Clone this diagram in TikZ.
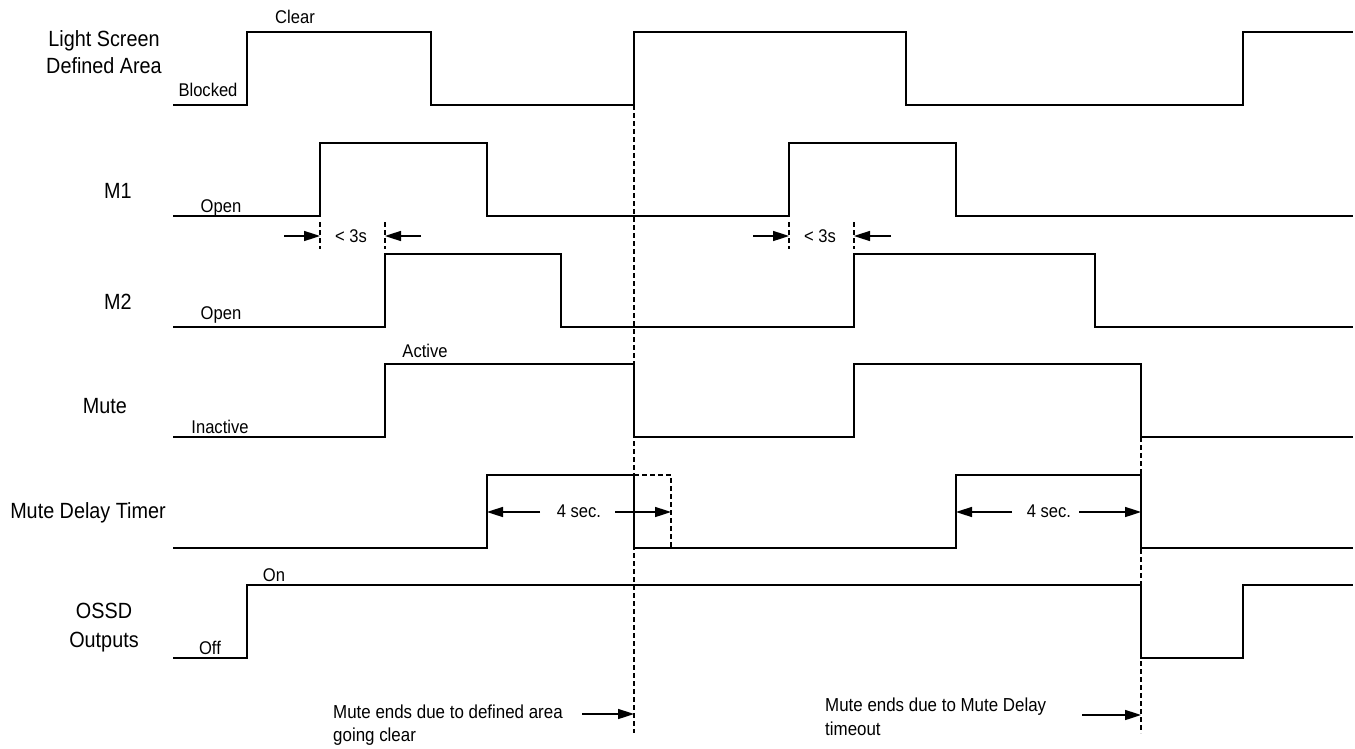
\documentclass[tikz,border=0pt]{standalone}
\usepackage{fontspec}
\setmainfont{Liberation Sans}[FakeStretch=0.9]
\usetikzlibrary{arrows.meta}
\begin{document}
\begin{tikzpicture}[x=1pt,y=-1pt,
  sig/.style={line width=1.6pt, line join=miter},
  guide/.style={line width=1.4pt, dash pattern=on 5pt off 3pt},
  dimarrow/.style={line width=1.6pt, -{Triangle[length=16pt,width=10pt]}},
  big/.style={font=\fontsize{22}{26}\selectfont, inner sep=0pt, anchor=base},
  small/.style={font=\fontsize{18.4}{22}\selectfont, inner sep=0pt, anchor=base},
  note/.style={font=\fontsize{18.8}{22}\selectfont, inner sep=0pt, anchor=base west}]
\useasboundingbox (0,0) rectangle (1355,749);

% signal names
\node[big] (lsA) at (104,47) {Light Screen};
\node[big] (lsB) at (104,74) {Defined Area};
\node[big] (m1) at (118,198) {M1};
\node[big] (m2) at (118,309) {M2};
\node[big] (mute) at (105,413) {Mute};
\node[big] (mdt) at (88,518) {Mute Delay Timer};
\node[big] (ossdA) at (104,618) {OSSD};
\node[big] (ossdB) at (104,647) {Outputs};

% state labels
\node[small] (clear) at (295,24) {Clear};
\node[small] (blocked) at (208,97) {Blocked};
\node[small] (open1) at (221,212) {Open};
\node[small] (open2) at (221,319) {Open};
\node[small] (active) at (425,357) {Active};
\node[small] (inactive) at (220,433) {Inactive};
\node[small] (on) at (274,581) {On};
\node[small] (off) at (210,654) {Off};

% waveforms
\draw[sig] (173,105) -- (247,105) -- (247,32) -- (431,32) -- (431,105) -- (634,105) -- (634,32) -- (906,32) -- (906,105) -- (1243,105) -- (1243,32) -- (1353,32);
\draw[sig] (173,216) -- (320,216) -- (320,143) -- (487,143) -- (487,216) -- (789,216) -- (789,143) -- (956,143) -- (956,216) -- (1353,216);
\draw[sig] (173,327) -- (385,327) -- (385,254) -- (561,254) -- (561,327) -- (854,327) -- (854,254) -- (1095,254) -- (1095,327) -- (1353,327);
\draw[sig] (173,437) -- (385,437) -- (385,364) -- (634,364) -- (634,437) -- (854,437) -- (854,364) -- (1141,364) -- (1141,437) -- (1353,437);
\draw[sig] (173,548) -- (487,548) -- (487,475) -- (634,475) -- (634,548) -- (956,548) -- (956,475) -- (1141,475) -- (1141,548) -- (1353,548);
\draw[sig] (173,658) -- (247,658) -- (247,585) -- (1141,585) -- (1141,658) -- (1243,658) -- (1243,585) -- (1353,585);
\draw[guide, line width=1.2pt] (634,475) -- (671,475) -- (671,548);

% guide lines
\coordinate (gA1) at (634,105);
\coordinate (gA2) at (634,733);
\coordinate (gB1) at (1141,437);
\coordinate (gB2) at (1141,733);
\draw[guide] (gA1) -- (gA2);
\draw[guide] (gB1) -- (gB2);
\draw[guide] (320,222) -- (320,249);
\draw[guide] (385,222) -- (385,249);
\draw[guide] (789,222) -- (789,249);
\draw[guide] (854,222) -- (854,249);

% < 3s dimensions
\node[small] (t3a) at (351,242) {< 3s};
\node[small] (t3b) at (820,242) {< 3s};
\draw[dimarrow] (284,236) -- (320,236);
\draw[dimarrow] (421,236) -- (385,236);
\draw[dimarrow] (753,236) -- (789,236);
\draw[dimarrow] (891,236) -- (854,236);

% 4 sec dimensions
\node[small] (t4a) at (579,517) {4 sec.};
\node[small] (t4b) at (1049,517) {4 sec.};
\draw[dimarrow] (540,512) -- (487,512);
\draw[dimarrow] (615,512) -- (671,512);
\draw[dimarrow] (1012,512) -- (956,512);
\draw[dimarrow] (1079,512) -- (1141,512);

% bottom notes
\node[note] (n1a) at (333,718) {Mute ends due to defined area};
\node[note] (n1b) at (333,741) {going clear};
\node[note] (n2a) at (825,711) {Mute ends due to Mute Delay};
\node[note] (n2b) at (825,735) {timeout};
\coordinate (p1) at (634,714);
\coordinate (p2) at (1141,715);
\draw[dimarrow] (582,714) -- (p1);
\draw[dimarrow] (1082,715) -- (p2);
\end{tikzpicture}
\end{document}
